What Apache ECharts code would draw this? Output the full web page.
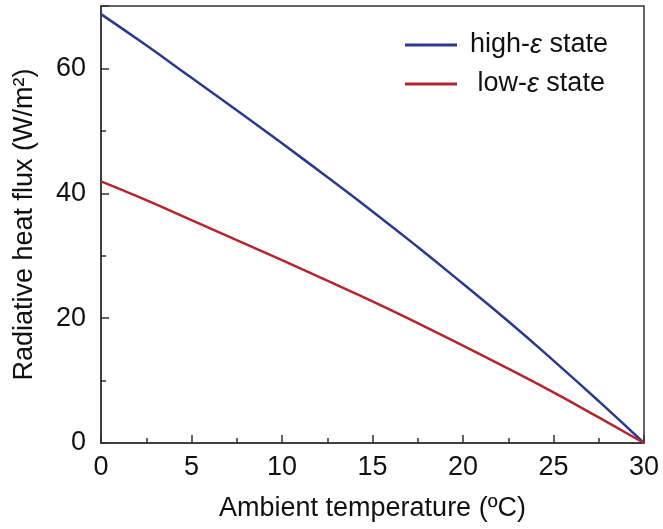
<!DOCTYPE html>
<html>
<head>
<meta charset="utf-8">
<script src="https://cdn.jsdelivr.net/npm/echarts@6/dist/echarts.min.js"></script>
<style>
  html, body { margin: 0; padding: 0; background: #fff; }
  #chart { width: 663px; height: 529px; }
</style>
</head>
<body>
<div id="chart"></div>
<script>
// Ambient temperature (ºC)
const ambientTemp = [0, 2.5, 5, 7.5, 10, 12.5, 15, 17.5, 20, 22.5, 25, 27.5, 30];
// Net radiative heat flux (W/m²) for each emissivity state
const highEpsFlux = [68.7, 63.7, 58.5, 53.3, 48.0, 42.6, 37.1, 31.4, 25.5, 19.5, 13.2, 6.7, 0];
const lowEpsFlux  = [41.9, 38.9, 35.7, 32.5, 29.3, 26.0, 22.7, 19.2, 15.6, 11.9, 8.1, 4.1, 0];
const xTicks = [0, 5, 10, 15, 20, 25, 30];
const yTicks = [0, 20, 40, 60];

const FONT = 'Liberation Sans, Arial, Helvetica, sans-serif';
const FS = 27;
const AXIS_COLOR = '#333333';
const BLUE = '#2b3990';
const RED = '#b3262d';

const pairs = (xs, ys) => xs.map((x, i) => [x, ys[i]]);

const chart = echarts.init(document.getElementById('chart'), null, { renderer: 'canvas' });

const axisLine = { show: true, lineStyle: { color: AXIS_COLOR, width: 1.5 } };
const majorTick = { show: true, inside: true, length: 8, lineStyle: { color: AXIS_COLOR, width: 1.5 } };
const minorTick = { show: true, splitNumber: 2, length: 5, lineStyle: { color: AXIS_COLOR, width: 1.5 } };

chart.setOption({
  backgroundColor: '#ffffff',
  animation: false,
  grid: { left: 101, right: 19, top: 6, bottom: 86, show: true, borderColor: AXIS_COLOR, borderWidth: 1.5 },
  legend: {
    orient: 'vertical',
    left: 400,
    top: 25,
    itemWidth: 52,
    itemHeight: 3,
    itemGap: 9,
    icon: 'rect',
    textStyle: {
      fontFamily: FONT, fontSize: FS, color: '#111', lineHeight: 30, padding: [0, 0, 0, 8],
      rich: {
        a: { fontFamily: FONT, fontSize: FS, color: '#111' },
        e: { fontFamily: FONT, fontSize: FS, color: '#111', fontStyle: 'italic' }
      }
    },
    formatter: function (name) {
      return name === 'high' ? '{a|high-}{e|ε}{a| state}' : '{a| low-}{e|ε}{a| state}';
    },
    data: ['high', 'low']
  },
  xAxis: {
    type: 'value',
    min: 0, max: 30, interval: 5,
    name: 'Ambient temperature (ºC)',
    nameLocation: 'middle',
    nameGap: 52,
    nameTextStyle: { fontFamily: FONT, fontSize: FS, color: '#111' },
    axisLine: axisLine,
    axisTick: majorTick,
    minorTick: minorTick,
    axisLabel: {
      fontFamily: FONT, fontSize: FS, color: '#111', margin: 11,
      formatter: v => (xTicks.includes(v) ? String(v) : '')
    },
    splitLine: { show: false }
  },
  yAxis: {
    type: 'value',
    min: 0, max: 70, interval: 20,
    name: 'Radiative heat flux (W/m²)',
    nameLocation: 'middle',
    nameGap: 63,
    nameTextStyle: { fontFamily: FONT, fontSize: FS, color: '#111' },
    axisLine: axisLine,
    axisTick: majorTick,
    minorTick: minorTick,
    axisLabel: {
      fontFamily: FONT, fontSize: FS, color: '#111', margin: 15,
      showMaxLabel: false,
      formatter: v => (yTicks.includes(v) ? String(v) : '')
    },
    splitLine: { show: false }
  },
  series: [
    {
      name: 'high', type: 'line', smooth: true, showSymbol: false, symbol: 'none',
      data: pairs(ambientTemp, highEpsFlux),
      itemStyle: { color: BLUE },
      lineStyle: { color: BLUE, width: 2.5 }
    },
    {
      name: 'low', type: 'line', smooth: true, showSymbol: false, symbol: 'none',
      data: pairs(ambientTemp, lowEpsFlux),
      itemStyle: { color: RED },
      lineStyle: { color: RED, width: 2.5 }
    }
  ]
});
</script>
</body>
</html>
